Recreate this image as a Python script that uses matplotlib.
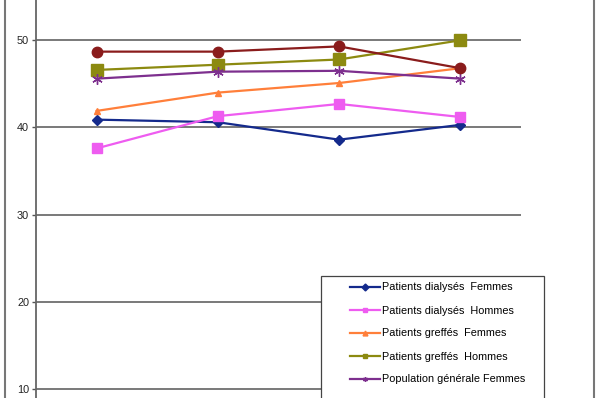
import numpy as np
import matplotlib
matplotlib.use("Agg")
import matplotlib.pyplot as plt
from matplotlib.lines import Line2D
from matplotlib.patches import Rectangle

plt.rcParams['font.family'] = ['Liberation Sans', 'DejaVu Sans']

# ---------------------------
# Données
# ---------------------------
positions = [0, 1, 2, 3]
dialyses_femmes = [40.9, 40.6, 38.6, 40.3]
dialyses_hommes = [37.6, 41.3, 42.7, 41.2]
greffes_femmes = [41.9, 44.0, 45.1, 46.8]
greffes_hommes = [46.6, 47.2, 47.8, 50.0]
pop_femmes = [45.6, 46.4, 46.5, 45.6]
pop_hommes = [48.7, 48.7, 49.3, 46.8]

labels = ["Patients dialysés  Femmes", "Patients dialysés  Hommes",
          "Patients greffés  Femmes", "Patients greffés  Hommes",
          "Population générale Femmes", "Population générale Hommes"]
yticks = [10, 20, 30, 40, 50]

W, H = 600, 398
fig = plt.figure(figsize=(W / 100, H / 100), dpi=100)

# zone de tracé : x 36..521 px, y=50 à 40 px, y=10 à 389 px
px_per_unit = (389 - 40.3) / 40.0
y_top = 50 + 40.3 / px_per_unit
y_bot = 10 - (H - 389) / px_per_unit
ax = fig.add_axes([36 / W, 0, (521 - 36) / W, 1])
ax.set_ylim(y_bot, y_top)
ax.set_xlim(-0.5, 3.5)

for y in yticks:
    ax.axhline(y, color="#555555", lw=1.1, zorder=1)

series = [
    (dialyses_femmes, "#142a8c", "D", 5.5),
    (dialyses_hommes, "#ee5cf0", "s", 6.5),
    (greffes_femmes, "#ff7f3a", "^", 4.5),
    (greffes_hommes, "#8c8a10", "s", 8.5),
    (pop_femmes, "#7d2f8e", (6, 2, 0), 7.5),
    (pop_hommes, "#8a1c1c", "o", 7.5),
]
handles = []
for (vals, c, m, ms), lab in zip(series, labels):
    ax.plot(positions, vals, color=c, lw=1.6, marker=m, ms=ms,
            markeredgecolor=c, markerfacecolor=c, markeredgewidth=1.0, zorder=3)
    handles.append(Line2D([], [], color=c, lw=1.6, marker=m, ms=3.5,
                          markeredgecolor=c, markerfacecolor=c, label=lab))

ax.set_xticks([])
ax.set_yticks(yticks)
ax.set_yticklabels([str(v) for v in yticks], fontsize=7.8, color="#222222")
ax.tick_params(axis="y", length=3, width=1, color="#555555", pad=2)
for s in ["top", "right", "bottom"]:
    ax.spines[s].set_visible(False)
ax.spines["left"].set_color("#666666")
ax.spines["left"].set_linewidth(1.3)

# cadre extérieur
fig.add_artist(Line2D([5 / W, 5 / W], [0, 1], color="#777777", lw=1.5))
fig.add_artist(Line2D([594 / W, 594 / W], [0, 1], color="#777777", lw=1.5))

# légende (la dernière entrée sort du cadre de l'image)
fig.add_artist(Rectangle((320.7 / W, -0.2), (544 - 320.7) / W, 0.2 + (H - 275.7) / H,
                         transform=fig.transFigure, facecolor="white",
                         edgecolor="#444444", lw=0.9, zorder=5))
leg = fig.legend(handles=handles[:5], loc="upper left",
                 bbox_to_anchor=(350 / W, 1 - 282.5 / H), frameon=False,
                 fontsize=7.8, handlelength=2.8, handletextpad=0.2,
                 labelspacing=1.2, borderpad=0, borderaxespad=0)
leg.set_zorder(6)

fig.savefig("out.png", dpi=100)
